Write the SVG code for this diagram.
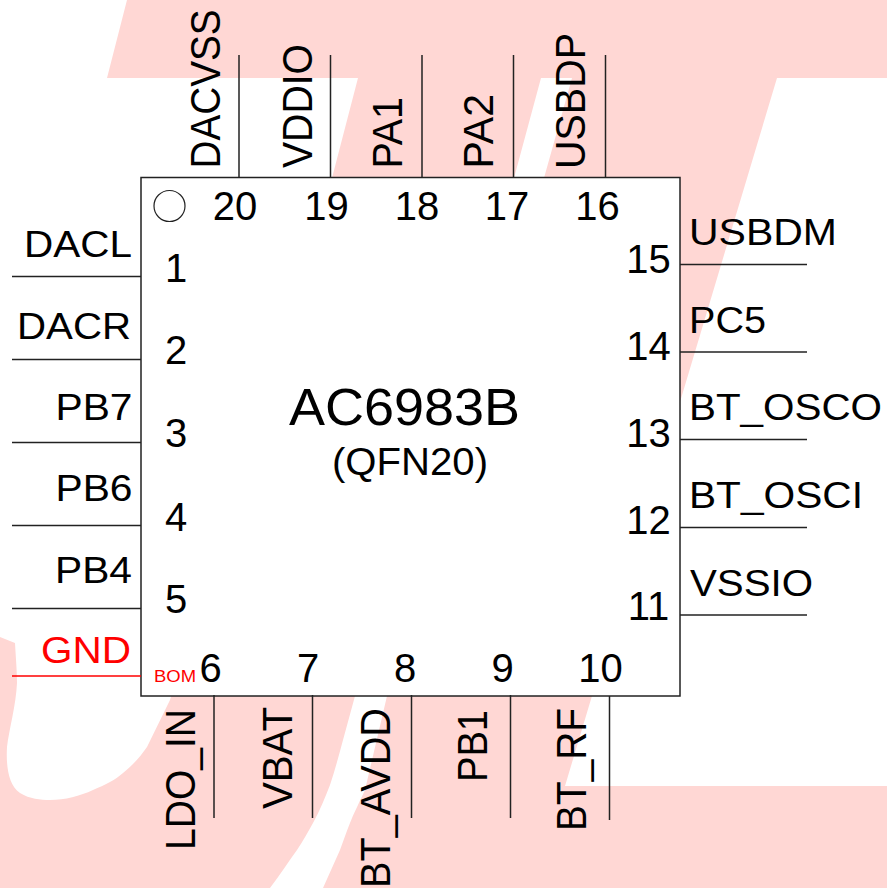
<svg xmlns="http://www.w3.org/2000/svg" width="887" height="888" viewBox="0 0 887 888">
<style>
text{font-family:"Liberation Sans",Arial,sans-serif;fill:#000}
.l{font-size:37px}
.e{text-anchor:end}
.n{font-size:40px;text-anchor:middle}
.r{font-size:42px}
line{stroke:#222;stroke-width:1.5}
line.red{stroke:#f00}
text.redt{fill:#f00}
</style>
<rect width="887" height="888" fill="#fff"/>
<g id="watermark">
<path fill="#ffd7d4" d="M127 0H887V78H777L565 786H887V888H0V637L15 643C16 660 17 672 17 683C16 705 9 730 7 747C6 765 8 785 20 793C30 799 40 800 50 800C65 800 80 796 93 790C105 785 115 780 123 773C133 765 140 757 147 747L170 700L332 178L358 78H107Z"/>
<path fill="#fff" d="M541 78H572L544 178L387 696L365 790C358 805 353 815 350 823C346 833 343 842 340 850L323 888H270C280 875 288 862 297 850C303 841 308 832 313 823C320 810 325 798 330 785C335 770 339 755 343 740L355 696L514 178Z"/>
</g>
<g id="chip">
<rect x="141" y="177.500" width="539" height="518.500" fill="#fff" stroke="#222" stroke-width="1.500"/>
<circle cx="169.500" cy="206" r="15.500" fill="#fff" stroke="#222" stroke-width="1.200"/>
<text x="289" y="425" font-size="52" textLength="231" lengthAdjust="spacingAndGlyphs">AC6983B</text>
<text x="332" y="475" font-size="38" textLength="156" lengthAdjust="spacingAndGlyphs">(QFN20)</text>
</g>
<g id="connectors">
<line x1="12" y1="276.500" x2="141" y2="276.500"/>
<line x1="12" y1="359.500" x2="141" y2="359.500"/>
<line x1="12" y1="442.500" x2="141" y2="442.500"/>
<line x1="12" y1="525.500" x2="141" y2="525.500"/>
<line x1="12" y1="608.500" x2="141" y2="608.500"/>
<line class="red" x1="12" y1="676" x2="141" y2="676"/>
<line x1="239" y1="55" x2="239" y2="178"/>
<line x1="330.500" y1="55" x2="330.500" y2="178"/>
<line x1="422" y1="55" x2="422" y2="178"/>
<line x1="513.500" y1="55" x2="513.500" y2="178"/>
<line x1="605.500" y1="55" x2="605.500" y2="178"/>
<line x1="680" y1="264.500" x2="807" y2="264.500"/>
<line x1="680" y1="352" x2="807" y2="352"/>
<line x1="680" y1="439.500" x2="807" y2="439.500"/>
<line x1="680" y1="527.500" x2="807" y2="527.500"/>
<line x1="680" y1="615" x2="807" y2="615"/>
<line x1="214" y1="695" x2="214" y2="818"/>
<line x1="312.500" y1="695" x2="312.500" y2="818"/>
<line x1="411.500" y1="695" x2="411.500" y2="818"/>
<line x1="510.500" y1="695" x2="510.500" y2="818"/>
<line x1="609.500" y1="696" x2="609.500" y2="820"/>
</g>
<g id="pin-1"><text class="l e" x="132" y="257" textLength="108" lengthAdjust="spacingAndGlyphs">DACL</text><text class="n" x="176" y="282">1</text></g>
<g id="pin-2"><text class="l e" x="131" y="339" textLength="114" lengthAdjust="spacingAndGlyphs">DACR</text><text class="n" x="176" y="364">2</text></g>
<g id="pin-3"><text class="l e" x="132.500" y="420" textLength="77" lengthAdjust="spacingAndGlyphs">PB7</text><text class="n" x="176" y="447">3</text></g>
<g id="pin-4"><text class="l e" x="132.500" y="501" textLength="77" lengthAdjust="spacingAndGlyphs">PB6</text><text class="n" x="176" y="530.500">4</text></g>
<g id="pin-5"><text class="l e" x="132" y="583" textLength="77" lengthAdjust="spacingAndGlyphs">PB4</text><text class="n" x="176" y="613">5</text></g>
<g id="pin-gnd"><text class="l e redt" x="131" y="663" textLength="90" lengthAdjust="spacingAndGlyphs">GND</text><text class="redt" x="154" y="682" font-size="16" textLength="42" lengthAdjust="spacingAndGlyphs">BOM</text></g>
<g id="pin-6"><text class="n" x="210.500" y="682">6</text><text class="r" transform="translate(195,850) rotate(-90)" textLength="141" lengthAdjust="spacingAndGlyphs">LDO_IN</text></g>
<g id="pin-7"><text class="n" x="308" y="682">7</text><text class="r" transform="translate(292,809) rotate(-90)" textLength="102" lengthAdjust="spacingAndGlyphs">VBAT</text></g>
<g id="pin-8"><text class="n" x="405" y="682">8</text><text class="r" transform="translate(390,888) rotate(-90)" textLength="180" lengthAdjust="spacingAndGlyphs">BT_AVDD</text></g>
<g id="pin-9"><text class="n" x="502.500" y="682">9</text><text class="r" transform="translate(487,782) rotate(-90)" textLength="72" lengthAdjust="spacingAndGlyphs">PB1</text></g>
<g id="pin-10"><text class="n" x="600.500" y="682">10</text><text class="r" transform="translate(586,831) rotate(-90)" textLength="123" lengthAdjust="spacingAndGlyphs">BT_RF</text></g>
<g id="pin-11"><text class="n" x="648.500" y="620">11</text><text class="l" x="690" y="596" textLength="123" lengthAdjust="spacingAndGlyphs">VSSIO</text></g>
<g id="pin-12"><text class="n" x="648.500" y="534">12</text><text class="l" x="689" y="508" textLength="174" lengthAdjust="spacingAndGlyphs">BT_OSCI</text></g>
<g id="pin-13"><text class="n" x="648.500" y="447">13</text><text class="l" x="689" y="420" textLength="193" lengthAdjust="spacingAndGlyphs">BT_OSCO</text></g>
<g id="pin-14"><text class="n" x="648.500" y="360">14</text><text class="l" x="689" y="333" textLength="77" lengthAdjust="spacingAndGlyphs">PC5</text></g>
<g id="pin-15"><text class="n" x="648.500" y="273">15</text><text class="l" x="689" y="245" textLength="148" lengthAdjust="spacingAndGlyphs">USBDM</text></g>
<g id="pin-16"><text class="n" x="597.500" y="220">16</text><text class="r" transform="translate(585,169) rotate(-90)" textLength="136" lengthAdjust="spacingAndGlyphs">USBDP</text></g>
<g id="pin-17"><text class="n" x="507" y="220">17</text><text class="r" transform="translate(493,168.500) rotate(-90)" textLength="74.500" lengthAdjust="spacingAndGlyphs">PA2</text></g>
<g id="pin-18"><text class="n" x="417" y="220">18</text><text class="r" transform="translate(402,168.500) rotate(-90)" textLength="71.500" lengthAdjust="spacingAndGlyphs">PA1</text></g>
<g id="pin-19"><text class="n" x="326.500" y="220">19</text><text class="r" transform="translate(312,168) rotate(-90)" textLength="124" lengthAdjust="spacingAndGlyphs">VDDIO</text></g>
<g id="pin-20"><text class="n" x="235" y="220">20</text><text class="r" transform="translate(220,168.500) rotate(-90)" textLength="159" lengthAdjust="spacingAndGlyphs">DACVSS</text></g>
</svg>
